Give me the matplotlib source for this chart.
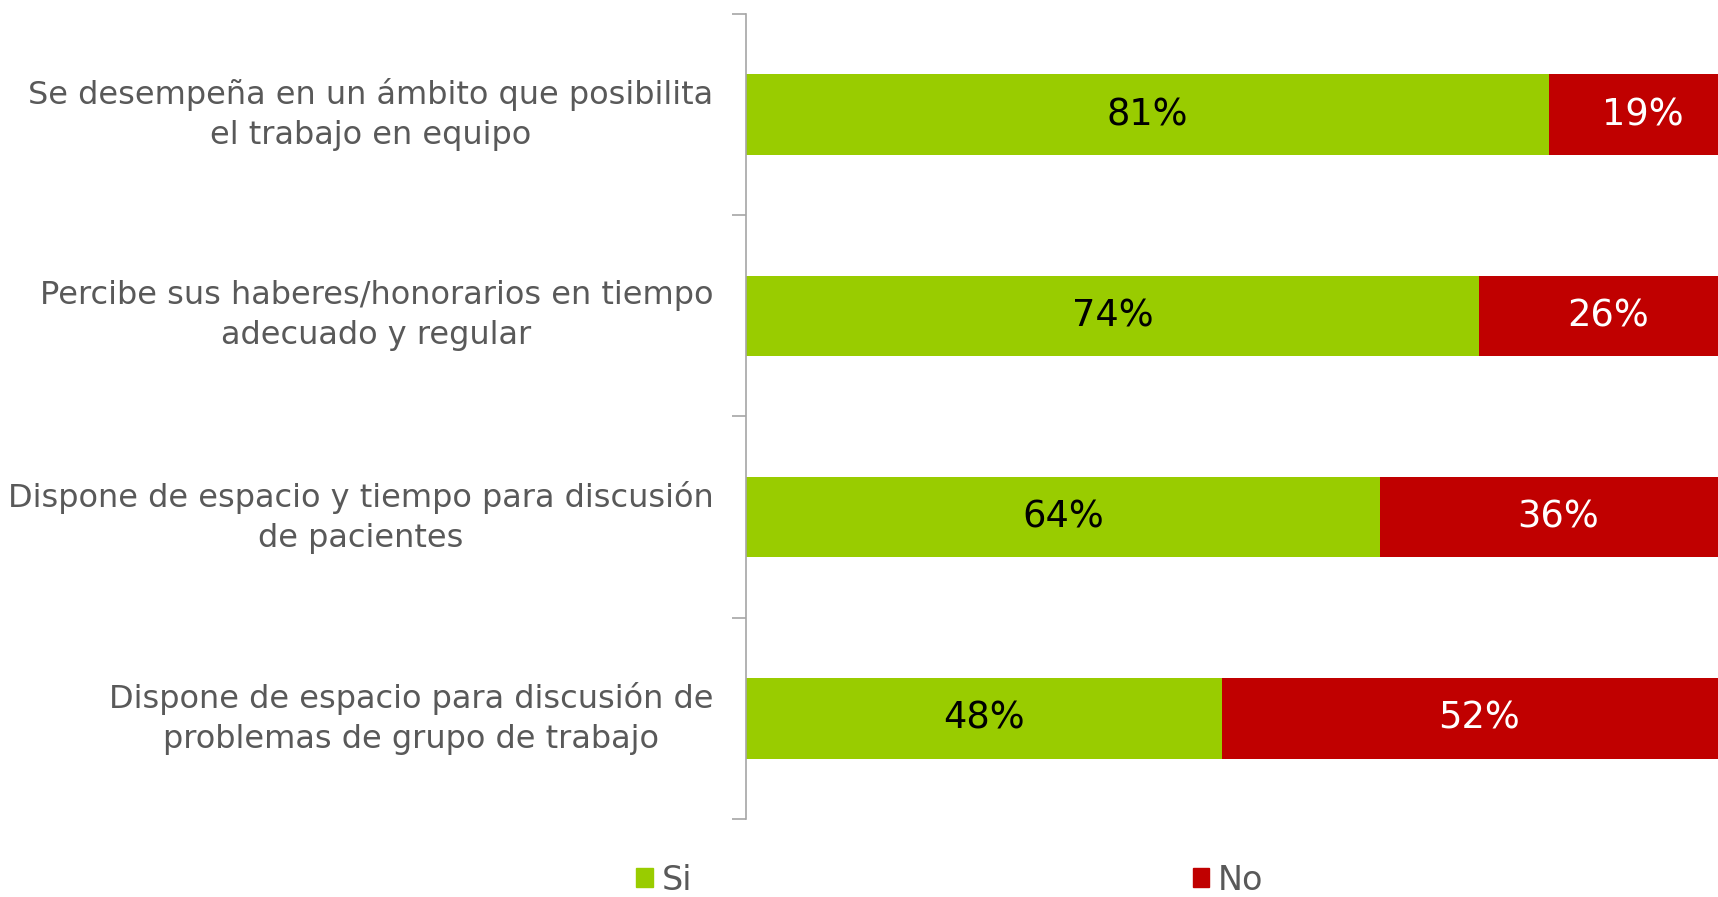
import matplotlib
matplotlib.use("Agg")
import matplotlib.pyplot as plt
from matplotlib.patches import Patch

categories = [
    "Se desempeña en un ámbito que posibilita\nel trabajo en equipo",
    "Percibe sus haberes/honorarios en tiempo\nadecuado y regular",
    "Dispone de espacio y tiempo para discusión\nde pacientes",
    "Dispone de espacio para discusión de\nproblemas de grupo de trabajo",
]
si_values = [81, 74, 64, 48]
no_values = [19, 26, 36, 52]
series_names = ["Si", "No"]
colors = ["#99CC00", "#C00000"]

W, H = 1718, 897
fig = plt.figure(figsize=(W / 100, H / 100), dpi=100)
plt.rcParams['font.family'] = ['DejaVu Sans']

ax_left = 746 / W
ax_width = 991 / W
ax_bottom = (H - 819) / H
ax_height = (819 - 14) / H
ax = fig.add_axes([ax_left, ax_bottom, ax_width, ax_height])

y = list(range(len(categories)))
ax.barh(y, si_values, height=0.4, color=colors[0], label=series_names[0])
ax.barh(y, no_values, left=si_values, height=0.4, color=colors[1], label=series_names[1])

ax.set_xlim(0, 100)
ax.set_ylim(len(categories) - 0.5, -0.5)

for i, (s, n) in enumerate(zip(si_values, no_values)):
    ax.text(s / 2, i, f"{s}%", ha="center", va="center", fontsize=26.5, color="black")
    ax.text(s + n / 2, i, f"{n}%", ha="center", va="center", fontsize=26.5, color="white")

for sp in ["top", "right", "bottom"]:
    ax.spines[sp].set_visible(False)
ax.spines["left"].set_color("#A6A6A6")
ax.spines["left"].set_linewidth(1.2)
ax.set_xticks([])
ax.set_yticks([i - 0.5 for i in range(len(categories) + 1)])
ax.set_yticklabels([])
ax.tick_params(axis="y", length=10, color="#A6A6A6", width=1.2)

for i, c in enumerate(categories):
    ax.text(-3.3, i, c, ha="right", va="center", multialignment="center",
            fontsize=23, color="#595959", linespacing=1.38)

handles = [Patch(color=colors[0], label=series_names[0]),
           Patch(color=colors[1], label=series_names[1])]
fig.legend(handles=handles, loc="center", bbox_to_anchor=(950 / W, (H - 880) / H),
           ncol=2, frameon=False, fontsize=24, handlelength=0.5, handleheight=0.5,
           handletextpad=0.27, columnspacing=15.0, labelcolor="#595959",
           borderpad=0, borderaxespad=0)

fig.savefig("out.png", dpi=100)
